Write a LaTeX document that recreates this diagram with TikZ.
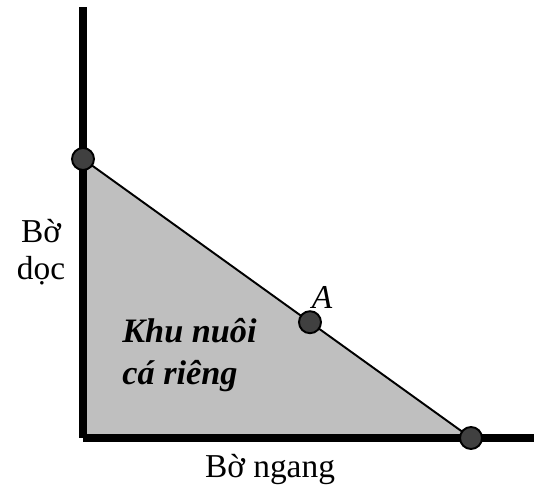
\documentclass[tikz,border=0pt]{standalone}
\usepackage{fontspec}
\setmainfont{Liberation Serif}
\usetikzlibrary{calc, positioning}

\tikzset{
  bank/.style={line width=4.6pt},
  dot/.style={circle, draw=black, line width=1.1pt, fill=black!75, inner sep=0pt, minimum size=0.44cm},
  lbl/.style={font=\fontsize{19}{21}\selectfont}
}

\begin{document}
\begin{tikzpicture}
\useasboundingbox (0,0) rectangle (10.76,9.94);

% Corner and ends of the banks
\coordinate (O) at (1.66,1.18);
\coordinate (top) at (1.66,9.8);
\coordinate (right) at (10.68,1.18);
\coordinate (P) at (1.66,6.76);
\coordinate (Q) at (9.42,1.18);

% Fish area
\fill[black!25] (P) -- (O) -- (Q) -- cycle;
\draw[line width=1.1pt] (P) -- (Q);

% Draw banks
\draw[bank] (O) -- (top);
\draw[bank] (O) -- (right);

% Points on the boundary
\node[dot] (p) at (P) {};
\node[dot] (q) at (Q) {};
\node[dot] (a) at ($(P)!0.585!(Q)$) {};
\node[lbl, font=\fontsize{19}{21}\selectfont\itshape] (alabel) at (6.44,4.0) {A};

% Labels
\node[lbl, align=center] (doc) at (0.82,4.9) {Bờ\\dọc};
\node[lbl] (ngang) at (5.4,0.54) {Bờ ngang};
\node[lbl, font=\fontsize{19.5}{21}\selectfont\bfseries\itshape, align=left, anchor=west, inner sep=0pt] (khu) at (2.44,2.84) {Khu nuôi\\[3pt]cá riêng};
\end{tikzpicture}
\end{document}
